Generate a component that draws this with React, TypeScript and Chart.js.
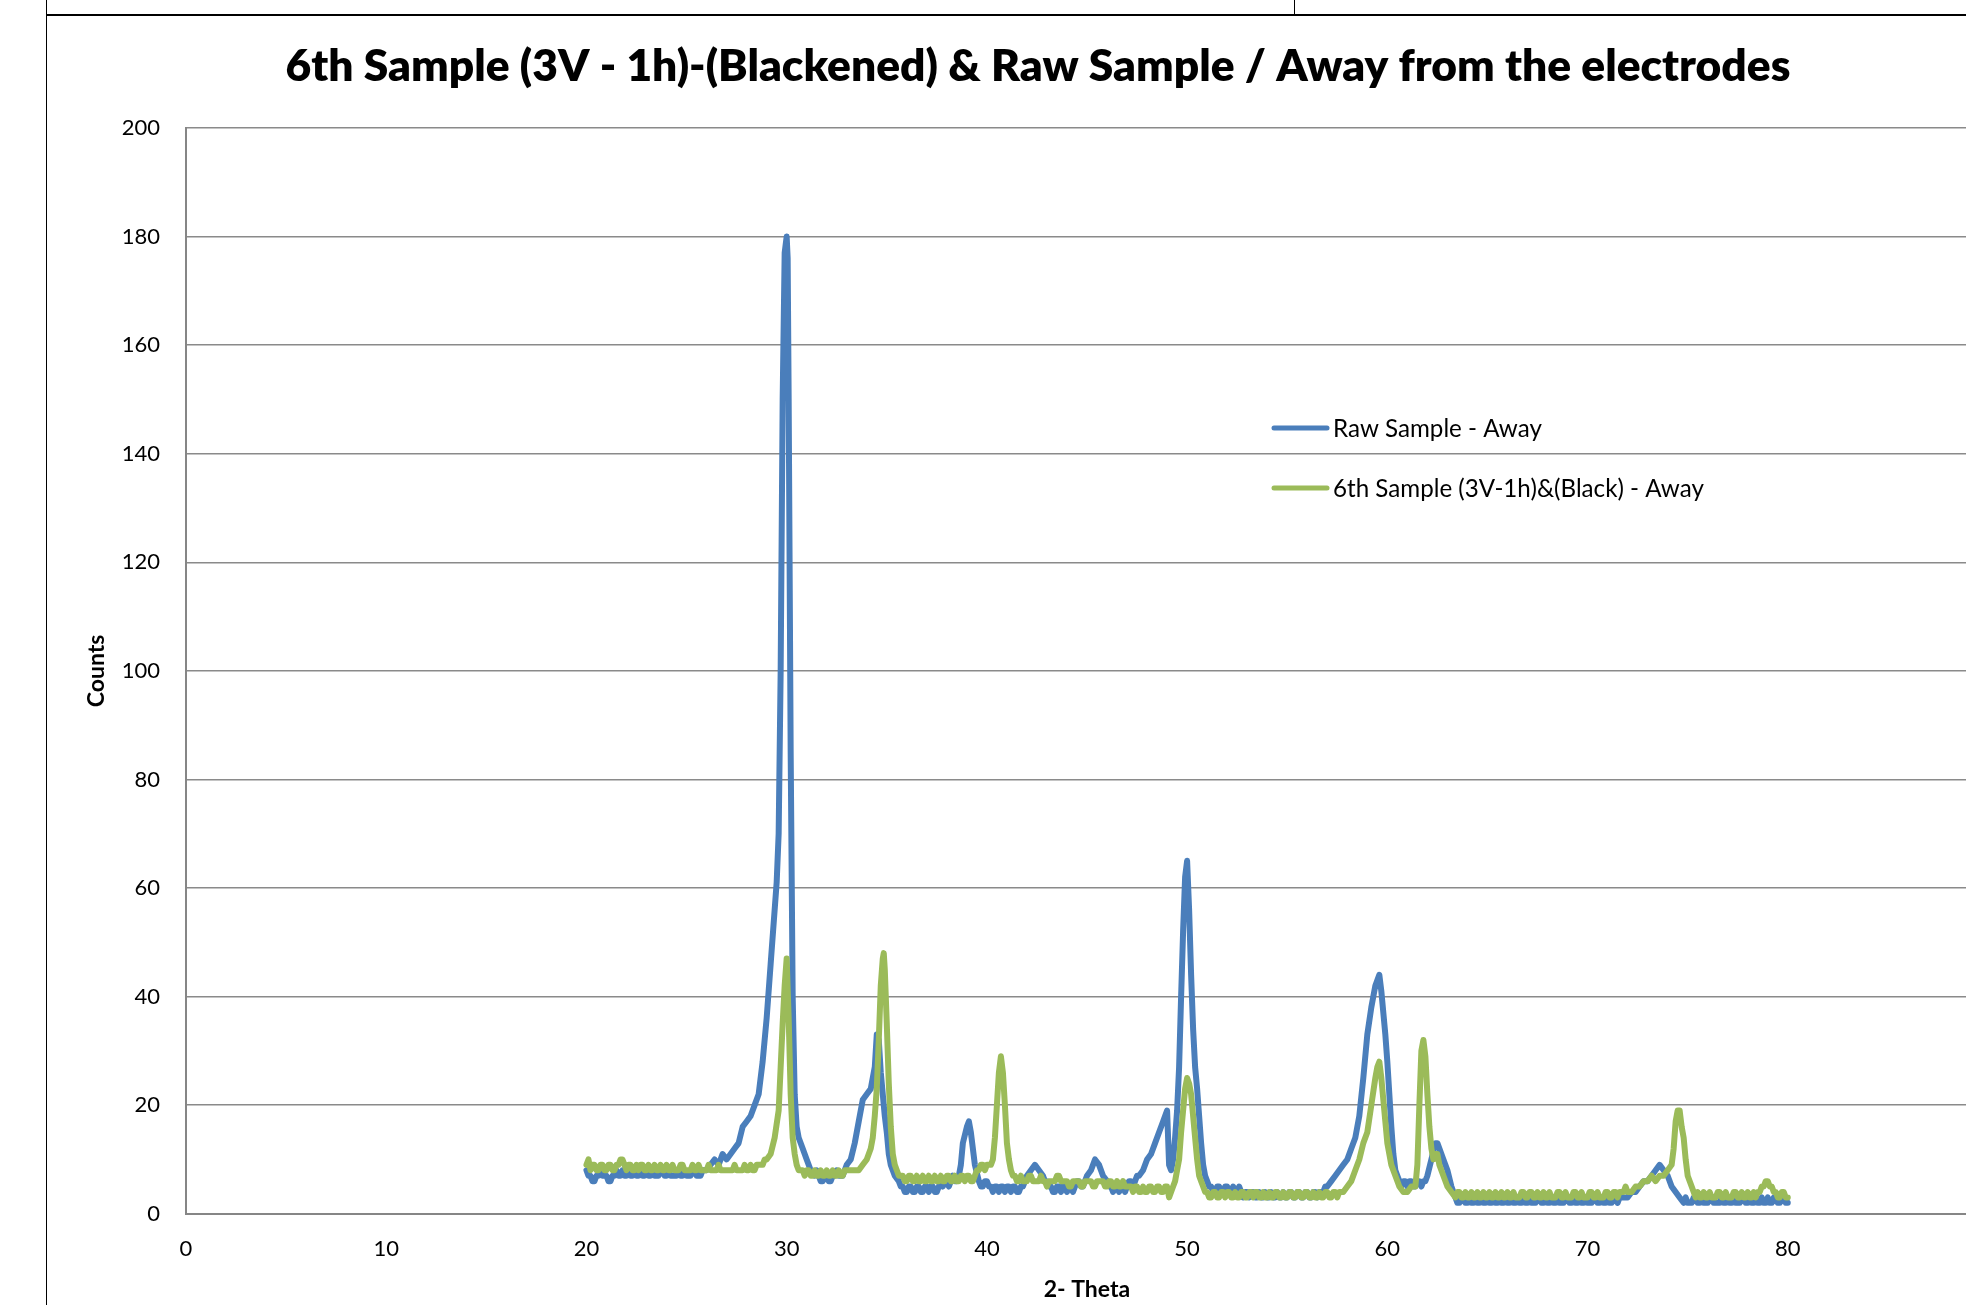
import React, { useEffect, useRef } from "react";
import { Chart, registerables } from "chart.js";

Chart.register(...registerables);

const CHART_TITLE = "6th Sample (3V - 1h)-(Blackened) & Raw Sample / Away from the electrodes";
const X_TITLE = "2- Theta";
const Y_TITLE = "Counts";
const SERIES_NAMES = ["Raw Sample - Away", "6th Sample (3V-1h)&(Black) - Away"];
const SERIES_COLORS = ["#4A7EBB", "#9BBB59"];
const X_TICK_LABELS = [0, 10, 20, 30, 40, 50, 60, 70, 80];
const Y_TICK_LABELS = [0, 20, 40, 60, 80, 100, 120, 140, 160, 180, 200];

// [2-theta, counts]
const rawSampleAway: [number, number][] = [
  [20.0, 8], [20.1, 7], [20.2, 7], [20.3, 6], [20.4, 6], [20.5, 7], [20.6, 7], [20.7, 8], [20.8, 7], [20.9, 7],
  [21.0, 7], [21.1, 6], [21.2, 6], [21.3, 7], [21.4, 7], [21.5, 8], [21.6, 7], [21.7, 7], [21.8, 8], [21.9, 7],
  [22.0, 7], [22.1, 8], [22.2, 7], [22.3, 7], [22.4, 8], [22.5, 7], [22.6, 7], [22.7, 8], [22.8, 7], [22.9, 7],
  [23.0, 8], [23.1, 7], [23.2, 7], [23.3, 8], [23.4, 7], [23.5, 7], [23.6, 7], [23.7, 8], [23.8, 8], [23.9, 7],
  [24.0, 7], [24.1, 8], [24.2, 7], [24.3, 7], [24.4, 7], [24.5, 7], [24.6, 8], [24.7, 7], [24.8, 7], [24.9, 8],
  [25.0, 7], [25.1, 7], [25.2, 7], [25.3, 8], [25.4, 8], [25.5, 7], [25.6, 7], [25.7, 7], [25.8, 8], [25.9, 8],
  [26.0, 8], [26.2, 9], [26.4, 10], [26.6, 9], [26.8, 11], [27.0, 10], [27.2, 11], [27.4, 12], [27.6, 13], [27.8, 16],
  [28.0, 17], [28.2, 18], [28.4, 20], [28.6, 22], [28.8, 28], [29.0, 36], [29.2, 46], [29.4, 56], [29.5, 61], [29.6, 70],
  [29.7, 100], [29.8, 150], [29.9, 177], [30.0, 180], [30.05, 176], [30.1, 150], [30.2, 85], [30.3, 40], [30.4, 22], [30.5, 16],
  [30.6, 14], [30.8, 12], [31.0, 10], [31.2, 8], [31.4, 7], [31.5, 8], [31.6, 7], [31.7, 6], [31.8, 6], [31.9, 7],
  [32.0, 7], [32.1, 6], [32.2, 6], [32.3, 7], [32.4, 7], [32.5, 8], [32.6, 7], [32.7, 7], [32.8, 7], [32.9, 8],
  [33.0, 9], [33.2, 10], [33.4, 13], [33.6, 17], [33.8, 21], [34.0, 22], [34.2, 23], [34.4, 27], [34.5, 33], [34.6, 32],
  [34.7, 26], [34.8, 22], [34.9, 18], [35.0, 15], [35.1, 11], [35.2, 9], [35.4, 7], [35.6, 6], [35.7, 5], [35.8, 5],
  [35.9, 4], [36.0, 4], [36.1, 5], [36.2, 5], [36.3, 4], [36.4, 4], [36.5, 5], [36.6, 5], [36.7, 4], [36.8, 4],
  [36.9, 5], [37.0, 5], [37.1, 4], [37.2, 5], [37.3, 5], [37.4, 4], [37.5, 4], [37.6, 5], [37.7, 6], [37.8, 5],
  [37.9, 6], [38.0, 6], [38.1, 5], [38.2, 6], [38.3, 7], [38.4, 6], [38.5, 6], [38.6, 7], [38.7, 9], [38.8, 13],
  [39.0, 16], [39.1, 17], [39.2, 15], [39.4, 9], [39.6, 6], [39.7, 5], [39.8, 5], [39.9, 6], [40.0, 6], [40.1, 5],
  [40.2, 5], [40.3, 4], [40.4, 5], [40.5, 5], [40.6, 4], [40.7, 5], [40.8, 5], [40.9, 4], [41.0, 5], [41.1, 5],
  [41.2, 4], [41.3, 5], [41.4, 5], [41.5, 4], [41.6, 4], [41.7, 5], [41.8, 5], [41.9, 6], [42.0, 7], [42.2, 8],
  [42.4, 9], [42.6, 8], [42.8, 7], [42.9, 6], [43.0, 6], [43.1, 5], [43.2, 5], [43.3, 4], [43.4, 4], [43.5, 5],
  [43.6, 5], [43.7, 4], [43.8, 5], [43.9, 5], [44.0, 4], [44.1, 5], [44.2, 5], [44.3, 4], [44.4, 5], [44.5, 6],
  [44.6, 6], [44.7, 5], [44.8, 5], [44.9, 6], [45.0, 7], [45.2, 8], [45.4, 10], [45.6, 9], [45.8, 7], [46.0, 6],
  [46.1, 5], [46.2, 5], [46.3, 4], [46.4, 5], [46.5, 5], [46.6, 4], [46.7, 5], [46.8, 5], [46.9, 4], [47.0, 5],
  [47.1, 6], [47.2, 6], [47.3, 5], [47.4, 6], [47.5, 7], [47.6, 7], [47.8, 8], [48.0, 10], [48.2, 11], [48.4, 13],
  [48.6, 15], [48.8, 17], [49.0, 19], [49.1, 9], [49.2, 8], [49.3, 10], [49.4, 14], [49.5, 19], [49.6, 27], [49.7, 40],
  [49.8, 52], [49.9, 62], [50.0, 65], [50.1, 56], [50.2, 44], [50.3, 34], [50.4, 27], [50.5, 23], [50.6, 18], [50.7, 13],
  [50.8, 9], [50.9, 7], [51.0, 6], [51.1, 5], [51.2, 5], [51.3, 4], [51.4, 4], [51.5, 5], [51.6, 5], [51.7, 4],
  [51.8, 4], [51.9, 5], [52.0, 5], [52.1, 4], [52.2, 4], [52.3, 5], [52.4, 4], [52.5, 4], [52.6, 5], [52.7, 4],
  [52.8, 3], [52.9, 4], [53.0, 4], [53.1, 3], [53.2, 4], [53.3, 4], [53.4, 3], [53.5, 3], [53.6, 4], [53.7, 3],
  [53.8, 3], [53.9, 4], [54.0, 3], [54.1, 3], [54.2, 4], [54.3, 3], [54.4, 3], [54.5, 4], [54.6, 3], [54.7, 3],
  [54.8, 4], [54.9, 3], [55.0, 3], [55.1, 4], [55.2, 4], [55.3, 3], [55.4, 3], [55.5, 4], [55.6, 4], [55.7, 3],
  [55.8, 3], [55.9, 4], [56.0, 4], [56.1, 3], [56.2, 3], [56.3, 4], [56.4, 4], [56.5, 3], [56.6, 4], [56.7, 4],
  [56.8, 4], [56.9, 5], [57.0, 5], [57.2, 6], [57.4, 7], [57.6, 8], [57.8, 9], [58.0, 10], [58.2, 12], [58.4, 14],
  [58.6, 18], [58.8, 25], [59.0, 33], [59.2, 38], [59.4, 42], [59.5, 43], [59.6, 44], [59.7, 41], [59.8, 37], [59.9, 33],
  [60.0, 28], [60.1, 22], [60.2, 16], [60.3, 11], [60.4, 8], [60.5, 7], [60.6, 6], [60.7, 5], [60.8, 6], [60.9, 6],
  [61.0, 5], [61.1, 6], [61.2, 6], [61.3, 5], [61.4, 5], [61.5, 6], [61.6, 6], [61.7, 5], [61.8, 6], [61.9, 6],
  [62.0, 7], [62.2, 10], [62.4, 13], [62.5, 13], [62.6, 12], [62.8, 10], [63.0, 8], [63.2, 5], [63.4, 3], [63.5, 2],
  [63.6, 2], [63.7, 3], [63.8, 3], [63.9, 2], [64.0, 2], [64.1, 3], [64.2, 2], [64.3, 2], [64.4, 3], [64.5, 2],
  [64.6, 2], [64.7, 3], [64.8, 2], [64.9, 2], [65.0, 3], [65.1, 2], [65.2, 2], [65.3, 3], [65.4, 2], [65.5, 2],
  [65.6, 3], [65.7, 2], [65.8, 2], [65.9, 3], [66.0, 2], [66.1, 2], [66.2, 3], [66.3, 2], [66.4, 2], [66.5, 3],
  [66.6, 2], [66.7, 2], [66.8, 3], [66.9, 2], [67.0, 2], [67.1, 3], [67.2, 2], [67.3, 2], [67.4, 2], [67.5, 3],
  [67.6, 3], [67.7, 2], [67.8, 2], [67.9, 3], [68.0, 2], [68.1, 2], [68.2, 3], [68.3, 2], [68.4, 2], [68.5, 3],
  [68.6, 2], [68.7, 2], [68.8, 2], [68.9, 3], [69.0, 3], [69.1, 2], [69.2, 2], [69.3, 3], [69.4, 2], [69.5, 2],
  [69.6, 3], [69.7, 2], [69.8, 2], [69.9, 3], [70.0, 2], [70.1, 2], [70.2, 2], [70.3, 3], [70.4, 3], [70.5, 2],
  [70.6, 2], [70.7, 3], [70.8, 2], [70.9, 2], [71.0, 3], [71.1, 2], [71.2, 2], [71.3, 3], [71.4, 3], [71.5, 2],
  [71.6, 3], [71.7, 3], [71.8, 3], [71.9, 3], [72.0, 3], [72.2, 4], [72.4, 4], [72.6, 5], [72.8, 6], [73.0, 6],
  [73.2, 7], [73.4, 8], [73.6, 9], [73.8, 8], [74.0, 7], [74.2, 5], [74.4, 4], [74.6, 3], [74.8, 2], [74.9, 3],
  [75.0, 2], [75.1, 2], [75.2, 2], [75.3, 3], [75.4, 3], [75.5, 2], [75.6, 2], [75.7, 3], [75.8, 2], [75.9, 2],
  [76.0, 2], [76.1, 3], [76.2, 3], [76.3, 2], [76.4, 2], [76.5, 2], [76.6, 2], [76.7, 3], [76.8, 2], [76.9, 2],
  [77.0, 3], [77.1, 2], [77.2, 2], [77.3, 3], [77.4, 2], [77.5, 2], [77.6, 2], [77.7, 3], [77.8, 3], [77.9, 2],
  [78.0, 2], [78.1, 3], [78.2, 2], [78.3, 2], [78.4, 3], [78.5, 2], [78.6, 2], [78.7, 3], [78.8, 2], [78.9, 2],
  [79.0, 3], [79.1, 2], [79.2, 2], [79.3, 3], [79.4, 3], [79.5, 2], [79.6, 2], [79.7, 3], [79.8, 3], [79.9, 2],
  [80.0, 2],
];

// [2-theta, counts]
const blackSampleAway: [number, number][] = [
  [20.0, 9], [20.1, 10], [20.2, 8], [20.3, 9], [20.4, 9], [20.5, 8], [20.6, 8], [20.7, 9], [20.8, 9], [20.9, 8],
  [21.0, 8], [21.1, 9], [21.2, 9], [21.3, 8], [21.4, 8], [21.5, 9], [21.6, 9], [21.7, 10], [21.8, 10], [21.9, 9],
  [22.0, 8], [22.1, 9], [22.2, 9], [22.3, 8], [22.4, 8], [22.5, 9], [22.6, 8], [22.7, 9], [22.8, 9], [22.9, 8],
  [23.0, 8], [23.1, 9], [23.2, 8], [23.3, 8], [23.4, 9], [23.5, 8], [23.6, 8], [23.7, 9], [23.8, 8], [23.9, 8],
  [24.0, 9], [24.1, 8], [24.2, 8], [24.3, 9], [24.4, 8], [24.5, 8], [24.6, 8], [24.7, 9], [24.8, 9], [24.9, 8],
  [25.0, 8], [25.1, 8], [25.2, 8], [25.3, 9], [25.4, 8], [25.5, 8], [25.6, 9], [25.7, 8], [25.8, 8], [25.9, 8],
  [26.0, 8], [26.1, 9], [26.2, 8], [26.3, 8], [26.4, 8], [26.5, 8], [26.6, 9], [26.7, 8], [26.8, 8], [26.9, 8],
  [27.0, 8], [27.1, 8], [27.2, 8], [27.3, 8], [27.4, 9], [27.5, 8], [27.6, 8], [27.7, 8], [27.8, 8], [27.9, 9],
  [28.0, 8], [28.1, 8], [28.2, 9], [28.3, 8], [28.4, 8], [28.5, 9], [28.6, 9], [28.7, 9], [28.8, 9], [28.9, 10],
  [29.0, 10], [29.2, 11], [29.4, 14], [29.6, 19], [29.7, 27], [29.8, 35], [29.9, 42], [30.0, 47], [30.1, 36], [30.2, 22],
  [30.3, 14], [30.4, 11], [30.5, 9], [30.6, 8], [30.7, 8], [30.8, 8], [30.9, 7], [31.0, 8], [31.1, 8], [31.2, 7],
  [31.3, 7], [31.4, 8], [31.5, 7], [31.6, 7], [31.7, 8], [31.8, 7], [31.9, 7], [32.0, 8], [32.1, 7], [32.2, 7],
  [32.3, 8], [32.4, 7], [32.5, 7], [32.6, 8], [32.7, 7], [32.8, 7], [32.9, 8], [33.0, 8], [33.2, 8], [33.4, 8],
  [33.6, 8], [33.8, 9], [34.0, 10], [34.2, 12], [34.3, 14], [34.4, 18], [34.5, 23], [34.6, 32], [34.7, 42], [34.8, 47],
  [34.85, 48], [34.9, 45], [35.0, 35], [35.1, 24], [35.2, 16], [35.3, 11], [35.4, 9], [35.5, 8], [35.6, 7], [35.7, 7],
  [35.8, 7], [35.9, 6], [36.0, 6], [36.1, 7], [36.2, 7], [36.3, 6], [36.4, 6], [36.5, 7], [36.6, 6], [36.7, 6],
  [36.8, 7], [36.9, 6], [37.0, 6], [37.1, 7], [37.2, 6], [37.3, 6], [37.4, 7], [37.5, 6], [37.6, 6], [37.7, 7],
  [37.8, 6], [37.9, 6], [38.0, 7], [38.1, 7], [38.2, 6], [38.3, 6], [38.4, 7], [38.5, 6], [38.6, 6], [38.7, 7],
  [38.8, 7], [38.9, 6], [39.0, 7], [39.1, 7], [39.2, 6], [39.3, 6], [39.4, 7], [39.5, 8], [39.6, 8], [39.7, 9],
  [39.8, 9], [39.9, 8], [40.0, 9], [40.1, 9], [40.2, 9], [40.3, 10], [40.4, 14], [40.5, 20], [40.6, 26], [40.7, 29],
  [40.8, 26], [40.9, 20], [41.0, 13], [41.1, 10], [41.2, 8], [41.3, 7], [41.4, 7], [41.5, 6], [41.6, 6], [41.7, 7],
  [41.8, 6], [41.9, 6], [42.0, 6], [42.1, 7], [42.2, 7], [42.3, 6], [42.4, 6], [42.5, 6], [42.6, 6], [42.7, 7],
  [42.8, 6], [42.9, 6], [43.0, 5], [43.1, 6], [43.2, 6], [43.3, 6], [43.4, 6], [43.5, 7], [43.6, 7], [43.7, 6],
  [43.8, 6], [43.9, 6], [44.0, 6], [44.1, 5], [44.2, 5], [44.3, 6], [44.4, 6], [44.5, 6], [44.6, 6], [44.7, 5],
  [44.8, 5], [44.9, 6], [45.0, 6], [45.1, 6], [45.2, 6], [45.3, 5], [45.4, 5], [45.5, 6], [45.6, 6], [45.7, 6],
  [45.8, 6], [45.9, 5], [46.0, 5], [46.1, 6], [46.2, 6], [46.3, 5], [46.4, 5], [46.5, 6], [46.6, 5], [46.7, 5],
  [46.8, 6], [46.9, 5], [47.0, 5], [47.1, 5], [47.2, 5], [47.3, 4], [47.4, 5], [47.5, 5], [47.6, 4], [47.7, 4],
  [47.8, 5], [47.9, 4], [48.0, 4], [48.1, 5], [48.2, 5], [48.3, 4], [48.4, 4], [48.5, 5], [48.6, 5], [48.7, 4],
  [48.8, 4], [48.9, 5], [49.0, 5], [49.1, 3], [49.2, 4], [49.3, 5], [49.4, 6], [49.5, 8], [49.6, 10], [49.7, 15],
  [49.8, 19], [49.9, 23], [50.0, 25], [50.1, 24], [50.2, 22], [50.3, 18], [50.4, 14], [50.5, 10], [50.6, 7], [50.7, 6],
  [50.8, 5], [50.9, 4], [51.0, 4], [51.1, 3], [51.2, 3], [51.3, 4], [51.4, 4], [51.5, 3], [51.6, 3], [51.7, 4],
  [51.8, 4], [51.9, 3], [52.0, 4], [52.1, 4], [52.2, 3], [52.3, 3], [52.4, 4], [52.5, 3], [52.6, 3], [52.7, 4],
  [52.8, 4], [52.9, 3], [53.0, 3], [53.1, 4], [53.2, 4], [53.3, 3], [53.4, 4], [53.5, 4], [53.6, 3], [53.7, 3],
  [53.8, 4], [53.9, 3], [54.0, 3], [54.1, 4], [54.2, 3], [54.3, 3], [54.4, 4], [54.5, 4], [54.6, 3], [54.7, 3],
  [54.8, 4], [54.9, 3], [55.0, 3], [55.1, 4], [55.2, 4], [55.3, 3], [55.4, 3], [55.5, 4], [55.6, 4], [55.7, 3],
  [55.8, 3], [55.9, 4], [56.0, 4], [56.1, 3], [56.2, 3], [56.3, 4], [56.4, 3], [56.5, 3], [56.6, 4], [56.7, 3],
  [56.8, 3], [56.9, 4], [57.0, 4], [57.1, 3], [57.2, 3], [57.3, 4], [57.4, 4], [57.5, 3], [57.6, 4], [57.7, 4],
  [57.8, 4], [58.0, 5], [58.2, 6], [58.4, 8], [58.6, 10], [58.8, 13], [59.0, 15], [59.2, 20], [59.4, 25], [59.5, 27],
  [59.6, 28], [59.7, 25], [59.8, 21], [59.9, 17], [60.0, 13], [60.2, 9], [60.4, 7], [60.6, 5], [60.8, 4], [61.0, 4],
  [61.2, 5], [61.4, 5], [61.5, 9], [61.6, 20], [61.7, 30], [61.8, 32], [61.9, 29], [62.0, 22], [62.1, 16], [62.2, 12],
  [62.3, 10], [62.4, 11], [62.5, 11], [62.6, 9], [62.8, 7], [63.0, 5], [63.2, 4], [63.4, 3], [63.5, 4], [63.6, 4],
  [63.7, 3], [63.8, 3], [63.9, 4], [64.0, 3], [64.1, 3], [64.2, 4], [64.3, 3], [64.4, 3], [64.5, 4], [64.6, 3],
  [64.7, 3], [64.8, 4], [64.9, 3], [65.0, 3], [65.1, 4], [65.2, 3], [65.3, 3], [65.4, 4], [65.5, 3], [65.6, 3],
  [65.7, 4], [65.8, 3], [65.9, 3], [66.0, 4], [66.1, 3], [66.2, 3], [66.3, 4], [66.4, 3], [66.5, 3], [66.6, 3],
  [66.7, 4], [66.8, 4], [66.9, 3], [67.0, 3], [67.1, 4], [67.2, 4], [67.3, 3], [67.4, 3], [67.5, 4], [67.6, 3],
  [67.7, 3], [67.8, 4], [67.9, 3], [68.0, 3], [68.1, 4], [68.2, 3], [68.3, 3], [68.4, 3], [68.5, 4], [68.6, 4],
  [68.7, 3], [68.8, 3], [68.9, 4], [69.0, 3], [69.1, 3], [69.2, 3], [69.3, 4], [69.4, 4], [69.5, 3], [69.6, 3],
  [69.7, 4], [69.8, 3], [69.9, 3], [70.0, 3], [70.1, 4], [70.2, 4], [70.3, 3], [70.4, 3], [70.5, 4], [70.6, 3],
  [70.7, 3], [70.8, 3], [70.9, 4], [71.0, 4], [71.1, 3], [71.2, 3], [71.3, 4], [71.4, 4], [71.5, 3], [71.6, 4],
  [71.7, 4], [71.8, 4], [71.9, 5], [72.0, 4], [72.2, 4], [72.4, 5], [72.6, 5], [72.8, 6], [73.0, 6], [73.2, 7],
  [73.4, 6], [73.6, 7], [73.8, 7], [74.0, 8], [74.2, 9], [74.3, 12], [74.4, 17], [74.5, 19], [74.6, 19], [74.7, 16],
  [74.8, 14], [74.9, 10], [75.0, 7], [75.2, 5], [75.4, 3], [75.5, 4], [75.6, 3], [75.7, 3], [75.8, 4], [75.9, 3],
  [76.0, 3], [76.1, 4], [76.2, 3], [76.3, 3], [76.4, 3], [76.5, 4], [76.6, 4], [76.7, 3], [76.8, 3], [76.9, 4],
  [77.0, 3], [77.1, 3], [77.2, 3], [77.3, 4], [77.4, 4], [77.5, 3], [77.6, 3], [77.7, 4], [77.8, 3], [77.9, 3],
  [78.0, 4], [78.1, 3], [78.2, 3], [78.3, 4], [78.4, 3], [78.5, 4], [78.6, 4], [78.7, 5], [78.8, 5], [78.9, 6],
  [79.0, 6], [79.1, 5], [79.2, 5], [79.3, 4], [79.4, 4], [79.5, 3], [79.6, 3], [79.7, 4], [79.8, 4], [79.9, 3],
  [80.0, 3],
];

const SERIES_DATA = [rawSampleAway, blackSampleAway];

const FONT = "Lato, 'Open Sans', sans-serif";
const CANVAS_W = 2010;
const CANVAS_H = 1305;

const titlePlugin = {
  id: "customTitle",
  afterDraw(chart: any) {
    const ctx = chart.ctx as CanvasRenderingContext2D;
    ctx.save();
    ctx.font = `800 100px ${FONT}`;
    const w100 = ctx.measureText(CHART_TITLE).width;
    const size = Math.min(52, (100 * 1505) / w100);
    ctx.font = `800 ${size}px ${FONT}`;
    ctx.fillStyle = "#000";
    ctx.textAlign = "center";
    ctx.textBaseline = "middle";
    ctx.fillText(CHART_TITLE, 1038, 67);
    ctx.restore();
  },
};

const legendPlugin = {
  id: "customLegend",
  afterDatasetsDraw(chart: any) {
    const ctx = chart.ctx as CanvasRenderingContext2D;
    ctx.save();
    ctx.font = `100px ${FONT}`;
    const w100 = ctx.measureText(SERIES_NAMES[0]).width;
    const size = Math.min(26, (100 * 209) / w100);
    const rows = [428, 488];
    SERIES_NAMES.forEach((name, i) => {
      const y = rows[i];
      ctx.beginPath();
      ctx.strokeStyle = SERIES_COLORS[i];
      ctx.lineWidth = 5;
      ctx.lineCap = "round";
      ctx.moveTo(1274, y);
      ctx.lineTo(1327, y);
      ctx.stroke();
      ctx.font = `${size}px ${FONT}`;
      ctx.fillStyle = "#000";
      ctx.textAlign = "left";
      ctx.textBaseline = "middle";
      ctx.fillText(name, 1333, y + 1);
    });
    ctx.restore();
  },
};

export default function App() {
  const canvasRef = useRef<HTMLCanvasElement | null>(null);

  useEffect(() => {
    const canvas = canvasRef.current;
    if (!canvas) return;
    const chart = new Chart(canvas, {
      type: "scatter",
      data: {
        datasets: SERIES_DATA.map((pts, i) => ({
          label: SERIES_NAMES[i],
          data: pts.map(([x, y]) => ({ x, y })),
          showLine: true,
          borderColor: SERIES_COLORS[i],
          backgroundColor: SERIES_COLORS[i],
          borderWidth: 6,
          borderJoinStyle: "round" as const,
          borderCapStyle: "round" as const,
          pointRadius: 0,
          pointHoverRadius: 0,
          tension: 0,
          order: i === 0 ? 1 : 0,
        })),
      },
      options: {
        responsive: false,
        maintainAspectRatio: false,
        animation: false,
        devicePixelRatio: 1,
        layout: { padding: { top: 128, left: 0, right: 0, bottom: 0 } },
        plugins: {
          legend: { display: false },
          title: { display: false },
          tooltip: { enabled: false },
        },
        scales: {
          x: {
            type: "linear",
            min: 0,
            max: 90,
            grid: { display: false, drawTicks: false },
            border: { display: true, color: "#868686", width: 2 },
            ticks: {
              stepSize: 10,
              padding: 22,
              maxRotation: 0,
              autoSkip: false,
              color: "#000",
              font: { family: FONT, size: 22 },
              callback: (v: any) => (X_TICK_LABELS.includes(Number(v)) ? String(v) : ""),
            },
            title: {
              display: true,
              text: X_TITLE,
              color: "#000",
              font: { family: FONT, size: 23, weight: "bold" },
              padding: { top: 0, bottom: 2 },
            },
            afterFit: (s: any) => {
              s.height = 91.3;
            },
          },
          y: {
            type: "linear",
            min: 0,
            max: 200,
            grid: { color: "#8a8a8a", lineWidth: 1.5, drawTicks: false },
            border: { display: true, color: "#868686", width: 2 },
            ticks: {
              stepSize: 20,
              padding: 26,
              autoSkip: false,
              color: "#000",
              font: { family: FONT, size: 22 },
              callback: (v: any) => (Y_TICK_LABELS.includes(Number(v)) ? String(v) : ""),
            },
            title: {
              display: true,
              text: Y_TITLE,
              color: "#000",
              font: { family: FONT, size: 23, weight: "bold" },
              padding: { top: 83, bottom: 0 },
            },
            afterFit: (s: any) => {
              s.width = 186;
            },
          },
        },
      },
      plugins: [titlePlugin, legendPlugin],
    } as any);
    return () => chart.destroy();
  }, []);

  return (
    <div
      style={{
        position: "fixed",
        left: 0,
        top: 0,
        width: 1966,
        height: 1305,
        overflow: "hidden",
        background: "#fff",
      }}
    >
      <div style={{ position: "absolute", left: 0, top: 0, width: CANVAS_W, height: CANVAS_H }}>
        <canvas
          ref={canvasRef}
          width={CANVAS_W}
          height={CANVAS_H}
          style={{ display: "block", width: CANVAS_W, height: CANVAS_H }}
        />
      </div>
      <div style={{ position: "absolute", left: 46, top: 0, width: 1, height: 1305, background: "#000" }} />
      <div style={{ position: "absolute", left: 46, top: 14, right: 0, height: 2, background: "#000" }} />
      <div style={{ position: "absolute", left: 1294, top: 0, width: 1, height: 15, background: "#000" }} />
    </div>
  );
}
